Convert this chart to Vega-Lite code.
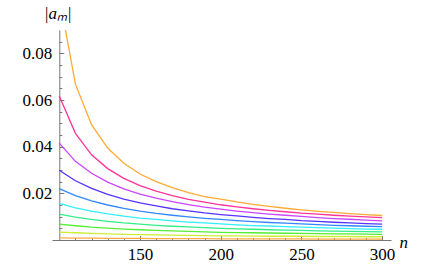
{
  "$schema": "https://vega.github.io/schema/vega-lite/v6.json",
  "width": 339,
  "height": 210,
  "autosize": {"type": "none"},
  "padding": {"left": 52, "top": 30, "right": 41, "bottom": 27},
  "background": "white",
  "config": {"view": {"stroke": null}, "font": "Liberation Serif",
    "axis": {"labelFont": "Liberation Serif", "titleFont": "Liberation Serif", "labelFontSize": 17, "titleFontSize": 17, "labelColor": "#000000", "titleColor": "#000000", "titleFontWeight": "normal", "grid": false, "tickColor": "#777777", "domainColor": "#777777"}},
  "datasets": {
    "curves": [
      {"n":100,"s":"c01","v":0.1046},{"n":110,"s":"c01","v":0.0668},{"n":120,"s":"c01","v":0.0494},{"n":130,"s":"c01","v":0.0394},{"n":140,"s":"c01","v":0.0329},{"n":150,"s":"c01","v":0.0283},{"n":160,"s":"c01","v":0.0250},{"n":170,"s":"c01","v":0.0224},{"n":180,"s":"c01","v":0.0203},{"n":190,"s":"c01","v":0.0186},{"n":200,"s":"c01","v":0.0175},{"n":210,"s":"c01","v":0.0163},{"n":220,"s":"c01","v":0.0153},{"n":230,"s":"c01","v":0.0144},{"n":240,"s":"c01","v":0.0136},{"n":250,"s":"c01","v":0.0129},{"n":260,"s":"c01","v":0.0123},{"n":270,"s":"c01","v":0.0118},{"n":280,"s":"c01","v":0.0113},{"n":290,"s":"c01","v":0.0109},{"n":300,"s":"c01","v":0.0105},
      {"n":100,"s":"c02","v":0.0617},{"n":110,"s":"c02","v":0.0457},{"n":120,"s":"c02","v":0.0365},{"n":130,"s":"c02","v":0.0306},{"n":140,"s":"c02","v":0.0264},{"n":150,"s":"c02","v":0.0233},{"n":160,"s":"c02","v":0.0209},{"n":170,"s":"c02","v":0.0190},{"n":180,"s":"c02","v":0.0174},{"n":190,"s":"c02","v":0.0162},{"n":200,"s":"c02","v":0.0151},{"n":210,"s":"c02","v":0.0142},{"n":220,"s":"c02","v":0.0134},{"n":230,"s":"c02","v":0.0127},{"n":240,"s":"c02","v":0.0121},{"n":250,"s":"c02","v":0.0115},{"n":260,"s":"c02","v":0.0111},{"n":270,"s":"c02","v":0.0106},{"n":280,"s":"c02","v":0.0102},{"n":290,"s":"c02","v":0.0099},{"n":300,"s":"c02","v":0.0096},
      {"n":100,"s":"c03","v":0.0415},{"n":110,"s":"c03","v":0.0337},{"n":120,"s":"c03","v":0.0286},{"n":130,"s":"c03","v":0.0248},{"n":140,"s":"c03","v":0.0219},{"n":150,"s":"c03","v":0.0197},{"n":160,"s":"c03","v":0.0179},{"n":170,"s":"c03","v":0.0164},{"n":180,"s":"c03","v":0.0152},{"n":190,"s":"c03","v":0.0141},{"n":200,"s":"c03","v":0.0132},{"n":210,"s":"c03","v":0.0124},{"n":220,"s":"c03","v":0.0117},{"n":230,"s":"c03","v":0.0111},{"n":240,"s":"c03","v":0.0106},{"n":250,"s":"c03","v":0.0101},{"n":260,"s":"c03","v":0.0096},{"n":270,"s":"c03","v":0.0092},{"n":280,"s":"c03","v":0.0089},{"n":290,"s":"c03","v":0.0085},{"n":300,"s":"c03","v":0.0082},
      {"n":100,"s":"c04","v":0.0299},{"n":110,"s":"c04","v":0.0254},{"n":120,"s":"c04","v":0.0221},{"n":130,"s":"c04","v":0.0196},{"n":140,"s":"c04","v":0.0175},{"n":150,"s":"c04","v":0.0159},{"n":160,"s":"c04","v":0.0146},{"n":170,"s":"c04","v":0.0134},{"n":180,"s":"c04","v":0.0125},{"n":190,"s":"c04","v":0.0116},{"n":200,"s":"c04","v":0.0109},{"n":210,"s":"c04","v":0.0103},{"n":220,"s":"c04","v":0.0097},{"n":230,"s":"c04","v":0.0092},{"n":240,"s":"c04","v":0.0088},{"n":250,"s":"c04","v":0.0083},{"n":260,"s":"c04","v":0.0080},{"n":270,"s":"c04","v":0.0076},{"n":280,"s":"c04","v":0.0073},{"n":290,"s":"c04","v":0.0070},{"n":300,"s":"c04","v":0.0068},
      {"n":100,"s":"c05","v":0.0220},{"n":110,"s":"c05","v":0.0190},{"n":120,"s":"c05","v":0.0168},{"n":130,"s":"c05","v":0.0150},{"n":140,"s":"c05","v":0.0136},{"n":150,"s":"c05","v":0.0124},{"n":160,"s":"c05","v":0.0114},{"n":170,"s":"c05","v":0.0106},{"n":180,"s":"c05","v":0.0099},{"n":190,"s":"c05","v":0.0093},{"n":200,"s":"c05","v":0.0088},{"n":210,"s":"c05","v":0.0083},{"n":220,"s":"c05","v":0.0079},{"n":230,"s":"c05","v":0.0075},{"n":240,"s":"c05","v":0.0072},{"n":250,"s":"c05","v":0.0069},{"n":260,"s":"c05","v":0.0066},{"n":270,"s":"c05","v":0.0063},{"n":280,"s":"c05","v":0.0061},{"n":290,"s":"c05","v":0.0059},{"n":300,"s":"c05","v":0.0057},
      {"n":100,"s":"c06","v":0.0157},{"n":110,"s":"c06","v":0.0138},{"n":120,"s":"c06","v":0.0124},{"n":130,"s":"c06","v":0.0112},{"n":140,"s":"c06","v":0.0102},{"n":150,"s":"c06","v":0.0094},{"n":160,"s":"c06","v":0.0088},{"n":170,"s":"c06","v":0.0082},{"n":180,"s":"c06","v":0.0077},{"n":190,"s":"c06","v":0.0073},{"n":200,"s":"c06","v":0.0069},{"n":210,"s":"c06","v":0.0065},{"n":220,"s":"c06","v":0.0062},{"n":230,"s":"c06","v":0.0060},{"n":240,"s":"c06","v":0.0057},{"n":250,"s":"c06","v":0.0055},{"n":260,"s":"c06","v":0.0053},{"n":270,"s":"c06","v":0.0051},{"n":280,"s":"c06","v":0.0049},{"n":290,"s":"c06","v":0.0047},{"n":300,"s":"c06","v":0.0046},
      {"n":100,"s":"c07","v":0.0111},{"n":110,"s":"c07","v":0.0098},{"n":120,"s":"c07","v":0.0088},{"n":130,"s":"c07","v":0.0080},{"n":140,"s":"c07","v":0.0073},{"n":150,"s":"c07","v":0.0068},{"n":160,"s":"c07","v":0.0063},{"n":170,"s":"c07","v":0.0059},{"n":180,"s":"c07","v":0.0056},{"n":190,"s":"c07","v":0.0053},{"n":200,"s":"c07","v":0.0050},{"n":210,"s":"c07","v":0.0048},{"n":220,"s":"c07","v":0.0046},{"n":230,"s":"c07","v":0.0044},{"n":240,"s":"c07","v":0.0042},{"n":250,"s":"c07","v":0.0041},{"n":260,"s":"c07","v":0.0039},{"n":270,"s":"c07","v":0.0038},{"n":280,"s":"c07","v":0.0037},{"n":290,"s":"c07","v":0.0036},{"n":300,"s":"c07","v":0.0035},
      {"n":100,"s":"c08","v":0.0068},{"n":110,"s":"c08","v":0.0061},{"n":120,"s":"c08","v":0.0055},{"n":130,"s":"c08","v":0.0051},{"n":140,"s":"c08","v":0.0047},{"n":150,"s":"c08","v":0.0044},{"n":160,"s":"c08","v":0.0041},{"n":170,"s":"c08","v":0.0039},{"n":180,"s":"c08","v":0.0037},{"n":190,"s":"c08","v":0.0035},{"n":200,"s":"c08","v":0.0033},{"n":210,"s":"c08","v":0.0032},{"n":220,"s":"c08","v":0.0031},{"n":230,"s":"c08","v":0.0030},{"n":240,"s":"c08","v":0.0029},{"n":250,"s":"c08","v":0.0028},{"n":260,"s":"c08","v":0.0027},{"n":270,"s":"c08","v":0.0026},{"n":280,"s":"c08","v":0.0026},{"n":290,"s":"c08","v":0.0025},{"n":300,"s":"c08","v":0.0024},
      {"n":100,"s":"c09","v":0.0034},{"n":110,"s":"c09","v":0.0031},{"n":120,"s":"c09","v":0.0028},{"n":130,"s":"c09","v":0.0026},{"n":140,"s":"c09","v":0.0024},{"n":150,"s":"c09","v":0.0023},{"n":160,"s":"c09","v":0.0022},{"n":170,"s":"c09","v":0.0021},{"n":180,"s":"c09","v":0.0020},{"n":190,"s":"c09","v":0.0019},{"n":200,"s":"c09","v":0.0018},{"n":210,"s":"c09","v":0.0018},{"n":220,"s":"c09","v":0.0017},{"n":230,"s":"c09","v":0.0016},{"n":240,"s":"c09","v":0.0016},{"n":250,"s":"c09","v":0.0016},{"n":260,"s":"c09","v":0.0015},{"n":270,"s":"c09","v":0.0015},{"n":280,"s":"c09","v":0.0015},{"n":290,"s":"c09","v":0.0014},{"n":300,"s":"c09","v":0.0014},
      {"n":100,"s":"c10","v":0.0009},{"n":110,"s":"c10","v":0.0008},{"n":120,"s":"c10","v":0.0008},{"n":130,"s":"c10","v":0.0007},{"n":140,"s":"c10","v":0.0007},{"n":150,"s":"c10","v":0.0007},{"n":160,"s":"c10","v":0.0006},{"n":170,"s":"c10","v":0.0006},{"n":180,"s":"c10","v":0.0006},{"n":190,"s":"c10","v":0.0006},{"n":200,"s":"c10","v":0.0005},{"n":210,"s":"c10","v":0.0005},{"n":220,"s":"c10","v":0.0005},{"n":230,"s":"c10","v":0.0005},{"n":240,"s":"c10","v":0.0005},{"n":250,"s":"c10","v":0.0005},{"n":260,"s":"c10","v":0.0004},{"n":270,"s":"c10","v":0.0004},{"n":280,"s":"c10","v":0.0004},{"n":290,"s":"c10","v":0.0004},{"n":300,"s":"c10","v":0.0004}
    ]
  },
  "data": {"name": "curves"},
  "layer": [
    {
      "mark": {"type": "line", "strokeWidth": 1.3, "clip": true},
      "encoding": {
        "x": {"field": "n", "type": "quantitative",
          "scale": {"domain": [95.5, 305.5], "nice": false, "zero": false},
          "axis": {"orient": "bottom", "values": [150, 200, 250, 300], "tickSize": -4.5, "labelPadding": 11, "labelFlush": false,
            "title": "n", "titleFontStyle": "italic", "titleX": 347, "titleY": 2, "titleAlign": "left", "titleBaseline": "middle"}},
        "y": {"field": "v", "type": "quantitative",
          "scale": {"domain": [0, 0.09], "nice": false, "zero": true},
          "axis": {"orient": "left", "values": [0.02, 0.04, 0.06, 0.08], "format": ".2f", "offset": -7.3,
            "tickSize": -4.5, "labelPadding": 12,
            "title": "|aₘ|", "titleAngle": 0, "titleFontStyle": "italic", "titleX": -2, "titleY": -17, "titleAlign": "center", "titleBaseline": "middle"}},
        "color": {"field": "s", "type": "nominal",
          "scale": {"domain": ["c01","c02","c03","c04","c05","c06","c07","c08","c09","c10"],
            "range": ["#ffaa33","#ff3399","#cc44ff","#5533ff","#3388ff","#33eeff","#33ee88","#55ee33","#ccee33","#ffaa44"]},
          "legend": null}
      }
    },
    {
      "mark": {"type": "line", "opacity": 0, "clip": true},
      "encoding": {
        "x": {"field": "n", "type": "quantitative",
          "axis": {"orient": "bottom", "values": [110,120,130,140,160,170,180,190,210,220,230,240,260,270,280,290],
            "tickSize": -2.5, "labels": false, "domain": false, "title": null}},
        "y": {"field": "v", "type": "quantitative",
          "axis": {"orient": "left", "values": [0.005,0.01,0.015,0.025,0.03,0.035,0.045,0.05,0.055,0.065,0.07,0.075,0.085],
            "offset": -7.3, "tickSize": -2.5, "labels": false, "domain": false, "title": null}},
        "detail": {"field": "s", "type": "nominal"}
      }
    }
  ],
  "resolve": {"axis": {"x": "independent", "y": "independent"}}
}
